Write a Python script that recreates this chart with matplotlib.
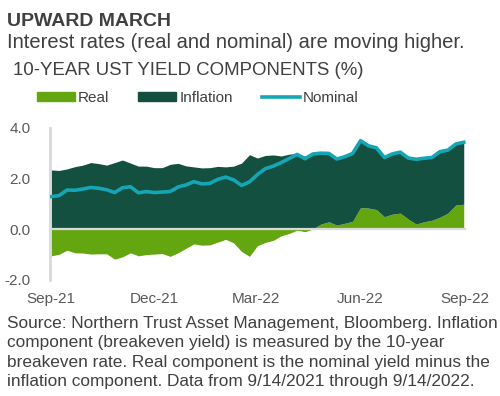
import numpy as np
import pandas as pd
import matplotlib
matplotlib.use("Agg")
import matplotlib.pyplot as plt
import matplotlib.dates as mdates
from matplotlib.patches import Patch
from matplotlib.lines import Line2D

plt.rcParams['font.family'] = ['Liberation Sans', 'DejaVu Sans']

# weekly readings, 9/14/2021 .. 9/13/2022
dates = pd.date_range("2021-09-14", periods=53, freq="7D")
nominal = [1.28, 1.32, 1.54, 1.53, 1.58, 1.64, 1.61, 1.55, 1.44, 1.63,
           1.67, 1.43, 1.48, 1.44, 1.46, 1.48, 1.66, 1.74, 1.87, 1.78,
           1.80, 1.96, 2.05, 1.94, 1.72, 1.86, 2.15, 2.38, 2.48, 2.62,
           2.78, 2.94, 2.77, 2.96, 2.99, 2.98, 2.76, 2.85, 2.98, 3.48,
           3.28, 3.20, 2.82, 2.96, 3.03, 2.80, 2.75, 2.79, 2.82, 3.05,
           3.11, 3.35, 3.42]
inflation = [2.33, 2.31, 2.37, 2.46, 2.52, 2.62, 2.58, 2.52, 2.62, 2.72,
             2.60, 2.48, 2.48, 2.42, 2.42, 2.55, 2.59, 2.49, 2.45, 2.41,
             2.42, 2.47, 2.45, 2.48, 2.60, 2.93, 2.80, 2.90, 2.92, 2.88,
             2.95, 2.98, 2.87, 2.95, 2.79, 2.69, 2.60, 2.62, 2.67, 2.63,
             2.45, 2.43, 2.33, 2.37, 2.40, 2.40, 2.55, 2.50, 2.47, 2.58,
             2.48, 2.40, 2.44]
nominal = np.array(nominal)
inflation = np.array(inflation)
real = nominal - inflation

c_real = "#63a60f"
c_infl = "#13503f"
c_nom = "#14a6b4"
c_text = "#404040"

fig = plt.figure(figsize=(5, 3.96), dpi=100)
ax = fig.add_axes([0.10, 0.293, 0.832, 0.385])

base = np.maximum(real, 0)
ax.fill_between(dates, 0, real, color=c_real, lw=0, interpolate=True)
ax.fill_between(dates, base, base + inflation, color=c_infl, lw=0)
ax.axhline(0, color="#d9d9d9", lw=1.6, zorder=3)
ax.plot(dates, nominal, color=c_nom, lw=2.6, zorder=4)

ax.set_ylim(-2, 4)
ax.set_yticks([-2, 0, 2, 4])
ax.set_yticklabels(["-2.0", "0.0", "2.0", "4.0"])
ax.set_xlim(pd.Timestamp("2021-09-13"), pd.Timestamp("2022-09-15"))
xt = pd.to_datetime(["2021-09-14", "2021-12-14", "2022-03-14", "2022-06-14", "2022-09-14"])
ax.set_xticks(xt)
ax.xaxis.set_major_formatter(mdates.DateFormatter("%b-%y"))
ax.tick_params(length=0, labelsize=11, labelcolor="#595959")
ax.tick_params(axis="y", pad=14)
ax.tick_params(axis="x", pad=9)
for s in ["top", "right", "bottom"]:
    ax.spines[s].set_visible(False)
ax.spines["left"].set_color("#d9d9d9")
ax.spines["left"].set_linewidth(2)

fig.text(0.014, 1 - 26 / 396, "UPWARD MARCH", fontsize=14, fontweight="bold",
         color=c_text, va="baseline")
fig.text(0.014, 1 - 48 / 396, "Interest rates (real and nominal) are moving higher.",
         fontsize=14.5, color=c_text, va="baseline")
fig.text(0.026, 1 - 75 / 396, "10-YEAR UST YIELD COMPONENTS (%)",
         fontsize=13.4, color=c_text, va="baseline")

handles = [Patch(color=c_real), Patch(color=c_infl), Line2D([], [], color=c_nom, lw=2.6)]
fig.legend(handles, ["Real", "Inflation", "Nominal"], ncol=3, frameon=False,
           loc="center left", bbox_to_anchor=(0.073, 1 - 97.7 / 396),
           fontsize=11, labelcolor=c_text, handlelength=2.5, handleheight=0.5,
           handletextpad=0.2, columnspacing=1.9, borderpad=0, borderaxespad=0)

fig.text(0.014, 1 - 316 / 396,
         "Source: Northern Trust Asset Management, Bloomberg. Inflation\n"
         "component (breakeven yield) is measured by the 10-year\n"
         "breakeven rate. Real component is the nominal yield minus the\n"
         "inflation component. Data from 9/14/2021 through 9/14/2022.",
         fontsize=12.4, color=c_text, va="top", linespacing=1.36)

fig.savefig("out.png", dpi=100)
